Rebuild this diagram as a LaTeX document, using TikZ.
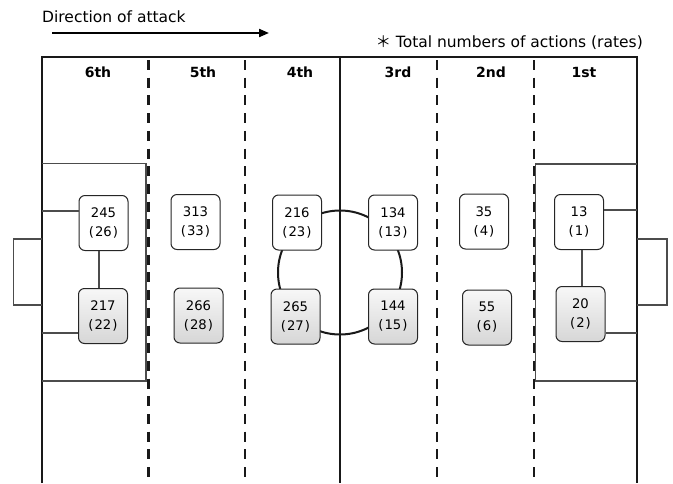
\documentclass[tikz,border=0pt]{standalone}
\usepackage{fontspec}
\setmainfont{DejaVu Sans}
\newfontfamily\hdrfont{DejaVu Sans}
\newfontfamily\cjkfont{Noto Sans CJK JP}
\usetikzlibrary{arrows.meta}
\tikzset{
  fieldline/.style={line width=2.2pt, black!90},
  divdash/.style={line width=2.8pt, black!90, dash pattern=on 10pt off 7.7pt},
  thinline/.style={line width=1.1pt, black!70},
  cnt/.style={draw=black!85, line width=1pt, rounded corners=6pt, minimum width=49pt, minimum height=55pt, inner sep=0pt, align=center, font=\fontsize{13.2}{19}\selectfont, fill=white},
  cntg/.style={cnt, top color=gray!6, bottom color=gray!32},
  hdr/.style={font=\hdrfont\bfseries\fontsize{14}{15}\selectfont, inner sep=0pt},
  lbl/.style={font=\fontsize{15.5}{17}\selectfont, inner sep=0pt}
}
\newcommand{\rt}[1]{(\kern1pt#1\kern1pt)}
\begin{document}
\begin{tikzpicture}[x=1pt,y=-1pt]
\useasboundingbox (0,0) rectangle (673,483);
% title and arrow
\node[lbl, anchor=base west] (dir) at (42,22.7) {Direction of attack};
\coordinate (a1) at (52,33);
\coordinate (a2) at (269,33);
\draw[line width=2pt, -{Triangle[length=10pt,width=8pt]}] (a1) -- (a2);
\node[lbl, anchor=base east] (note) at (643,47) {{\cjkfont ＊}\ Total numbers of actions (rates)};
% field
\coordinate (fl) at (42,483);
\coordinate (ftl) at (42,57);
\coordinate (ftr) at (637,57);
\coordinate (fr) at (637,483);
\draw[fieldline] (fl) -- (ftl) -- (ftr) -- (fr);
\coordinate (c1) at (340,57);
\coordinate (c2) at (340,483);
\draw[fieldline] (c1) -- (c2);
\foreach \xx/\nm in {148.5/d1,245/d2,437/d3,534/d4}{
  \coordinate (\nm t) at (\xx,60);
  \coordinate (\nm b) at (\xx,483);
  \draw[divdash] (\nm t) -- (\nm b);
}
% penalty boxes
\coordinate (pl1) at (42,163.5);
\coordinate (pl2) at (146,163.5);
\coordinate (pl3) at (146,381);
\coordinate (pl4) at (42,381);
\draw[thinline] (pl1) -- (pl2) -- (pl3) -- (pl4);
\coordinate (pr1) at (637,164);
\coordinate (pr2) at (535.5,164);
\coordinate (pr3) at (535.5,381);
\coordinate (pr4) at (637,381);
\draw[thinline] (pr1) -- (pr2) -- (pr3) -- (pr4);
% goals
\coordinate (gl1) at (42,239);
\coordinate (gl2) at (13.5,239);
\coordinate (gl3) at (13.5,305);
\coordinate (gl4) at (42,305);
\draw[thinline] (gl1) -- (gl2) -- (gl3) -- (gl4);
\coordinate (gr1) at (637,239);
\coordinate (gr2) at (667,239);
\coordinate (gr3) at (667,305);
\coordinate (gr4) at (637,305);
\draw[thinline] (gr1) -- (gr2) -- (gr3) -- (gr4);
% centre circle
\coordinate (cc) at (340,272.5);
\draw[line width=2pt, black!90] (cc) circle[radius=62];
% headers
\node[hdr] (h6) at (98,72) {6th};
\node[hdr] (h5) at (203,72) {5th};
\node[hdr] (h4) at (300,72) {4th};
\node[hdr] (h3) at (398,72) {3rd};
\node[hdr] (h2) at (491,72) {2nd};
\node[hdr] (h1) at (584,72) {1st};
% count boxes
\node[cnt]  (n245) at (103.5,223) {245\\\rt{26}};
\node[cntg] (n217) at (103,316) {217\\\rt{22}};
\node[cnt]  (n313) at (195.5,222) {313\\\rt{33}};
\node[cntg] (n266) at (198.5,315.5) {266\\\rt{28}};
\node[cnt]  (n216) at (297,222.5) {216\\\rt{23}};
\node[cntg] (n265) at (295.5,316.5) {265\\\rt{27}};
\node[cnt]  (n134) at (393,222.5) {134\\\rt{13}};
\node[cntg] (n144) at (393,316.5) {144\\\rt{15}};
\node[cnt]  (n35)  at (484,221.5) {35\\\rt{4}};
\node[cntg] (n55)  at (487,317.5) {55\\\rt{6}};
\node[cnt]  (n13)  at (579,222) {13\\\rt{1}};
\node[cntg] (n20)  at (580.5,314) {20\\\rt{2}};
% connectors
\coordinate (lb1) at (42,211);
\coordinate (lb2) at (42,333);
\draw[thinline] (lb1) -- (lb1 -| n245.west);
\draw[thinline] (lb2) -- (lb2 -| n217.west);
\draw[thinline] ([xshift=-4.5pt]n245.south) -- ([xshift=-4.5pt]n245.south |- n217.north);
\coordinate (rb1) at (637,210);
\coordinate (rb2) at (637,333);
\draw[thinline] (rb1) -- (rb1 -| n13.east);
\draw[thinline] (rb2) -- (rb2 -| n20.east);
\draw[thinline] ([xshift=3pt]n13.south) -- ([xshift=3pt]n13.south |- n20.north);
\end{tikzpicture}
\end{document}
